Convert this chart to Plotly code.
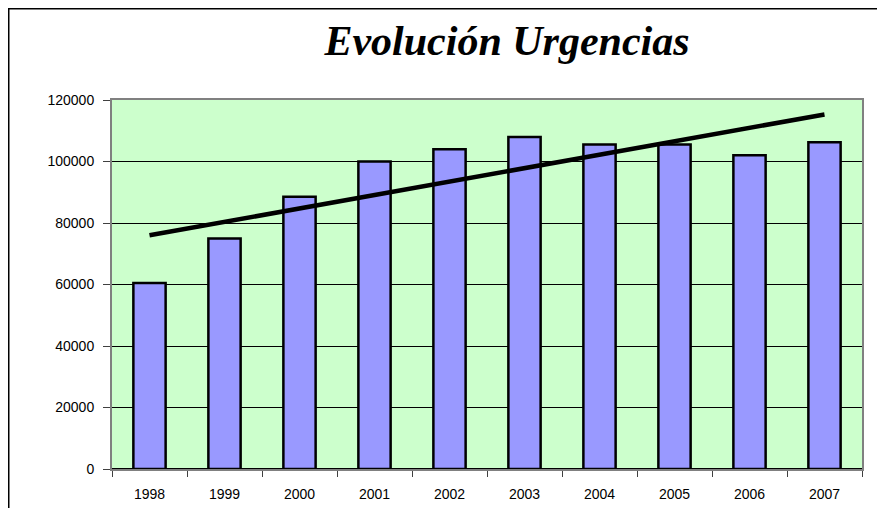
import plotly.graph_objects as go

years = ["1998", "1999", "2000", "2001", "2002", "2003", "2004", "2005", "2006", "2007"]
urgencias = [60500, 75000, 88500, 100000, 104000, 108000, 105500, 105500, 102000, 106300]
trend_years = ["1998", "2007"]
trend_values = [76000, 115300]
y_ticks = [0, 20000, 40000, 60000, 80000, 100000, 120000]

# page has an 8px body margin, so figure is offset by 8px
W, H = 877, 500
L, T, R, B = 104, 92, 23, 39
pw, ph = W - L - R, H - T - B

fig = go.Figure()
fig.add_trace(go.Bar(
    x=years, y=urgencias,
    marker=dict(color="#9999FF", line=dict(color="black", width=2.5)),
    showlegend=False, hoverinfo="x+y",
))
fig.add_trace(go.Scatter(
    x=trend_years, y=trend_values, mode="lines",
    line=dict(color="black", width=4.5),
    showlegend=False,
))

fig.update_layout(
    width=W, height=H,
    margin=dict(l=L, r=R, t=T, b=B, autoexpand=False),
    paper_bgcolor="white",
    plot_bgcolor="#CCFFCC",
    bargap=0.57,
    title=dict(
        text="Evolución Urgencias",
        font=dict(family="Liberation Serif", size=42, color="black", weight="bold", style="italic"),
        x=0.569, xanchor="center", y=0.935, yanchor="middle",
    ),
    font=dict(family="Liberation Sans, Arial", size=14, color="black"),
    xaxis=dict(
        type="category", tickson="boundaries", ticks="outside", ticklen=6,
        tickcolor="#404040", showline=True, linecolor="#808080", linewidth=2,
        mirror=True, showgrid=False, ticklabelstandoff=11, automargin=False,
    ),
    yaxis=dict(
        range=[0, 120000], tickvals=y_ticks, tickformat="d",
        ticks="outside", ticklen=7, tickcolor="#404040",
        showline=True, linecolor="#808080", linewidth=2, mirror=True,
        showgrid=True, gridcolor="black", gridwidth=1,
        zeroline=True, zerolinecolor="black", zerolinewidth=1.5,
        ticklabelstandoff=6, automargin=False,
    ),
    shapes=[dict(
        type="rect", xref="paper", yref="paper",
        x0=(0.5 - L) / pw, x1=1.1,
        y0=-0.3, y1=(ph + T - 0.5) / ph,
        line=dict(color="black", width=2), fillcolor="rgba(0,0,0,0)", layer="below",
    )],
)

fig.write_html("out.html")
